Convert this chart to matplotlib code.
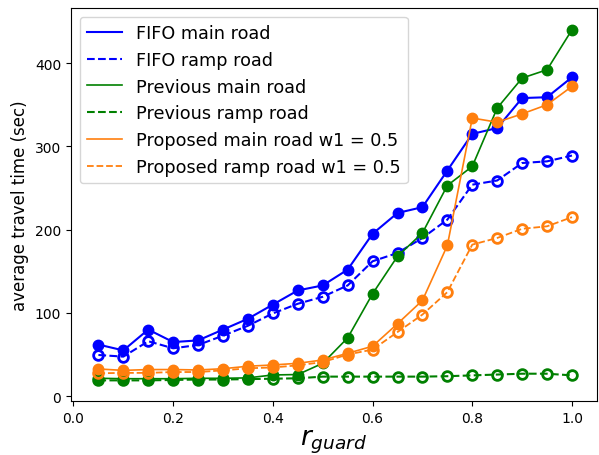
import numpy as np
import matplotlib
matplotlib.use("Agg")
import matplotlib.pyplot as plt

# ── data: average travel time vs guard ratio ──────────────────────────────────
r_guard = [0.05, 0.10, 0.15, 0.20, 0.25, 0.30, 0.35, 0.40, 0.45, 0.50,
           0.55, 0.60, 0.65, 0.70, 0.75, 0.80, 0.85, 0.90, 0.95, 1.00]

fifo_main = [62, 55, 80, 65, 67, 80, 93, 110, 127, 133,
             152, 195, 220, 227, 271, 315, 322, 358, 359, 383]
fifo_ramp = [49.5, 47.5, 66, 57.5, 61.5, 72.7, 84.6, 99.4, 111, 119.4,
             133, 162, 172, 190, 212, 254, 259, 280, 282, 289]

prev_main = [21.5, 21, 21, 21, 21.5, 21.5, 22, 25.5, 26, 39.5,
             70, 123, 168, 196, 253, 276, 346, 382, 392, 440]
prev_ramp = [19, 19, 19, 19.5, 20, 20, 20.5, 21, 21.5, 23.5,
             23.5, 23.5, 23.5, 23.5, 24, 25, 26, 27, 27, 25]

prop_main = [32.7, 31, 32, 32, 31.5, 33, 36, 37.5, 39.5, 43.5,
             51.5, 60, 87, 115, 181, 334, 329, 339, 350, 372]
prop_ramp = [27.5, 28, 28, 29, 29, 31, 33.5, 34.5, 37, 41,
             50, 56, 77, 98, 125, 182, 190, 201, 204, 215]

series = [
    ("FIFO main road",               fifo_main, "blue",    "-",  1.5, True),
    ("FIFO ramp road",               fifo_ramp, "blue",    "--", 1.5, False),
    ("Previous main road",           prev_main, "green",   "-",  1.2, True),
    ("Previous ramp road",           prev_ramp, "green",   "--", 1.5, False),
    ("Proposed main road w1 = 0.5",  prop_main, "#ff7f0e", "-",  1.2, True),
    ("Proposed ramp road w1 = 0.5",  prop_ramp, "#ff7f0e", "--", 1.3, False),
]

fig = plt.figure(figsize=(5.99, 4.56), dpi=100)
ax = fig.add_axes([0.1185, 0.118, 0.878, 0.862])

for label, vals, color, ls, lw, filled in series:
    # line carries the legend entry, markers drawn on top without label
    ax.plot(r_guard, vals, color=color, ls=ls, lw=lw, label=label)
    if filled:
        ax.plot(r_guard, vals, ls="none", marker="o", ms=7.5,
                color=color)
    else:
        ax.plot(r_guard, vals, ls="none", marker="o", ms=7,
                mfc="none", mec=color, mew=2)

ax.set_xlim(-0.005, 1.05)
ax.set_ylim(-6, 466)
ax.set_xticks([0.0, 0.2, 0.4, 0.6, 0.8, 1.0])
ax.set_yticks([0, 100, 200, 300, 400])
ax.tick_params(labelsize=10)

ax.set_xlabel(r"$r_{guard}$", fontsize=19, labelpad=2)
ax.set_ylabel("average travel time (sec)", fontsize=12)
ax.legend(loc="upper left", fontsize=12.7)

fig.savefig("out.png", dpi=100)
